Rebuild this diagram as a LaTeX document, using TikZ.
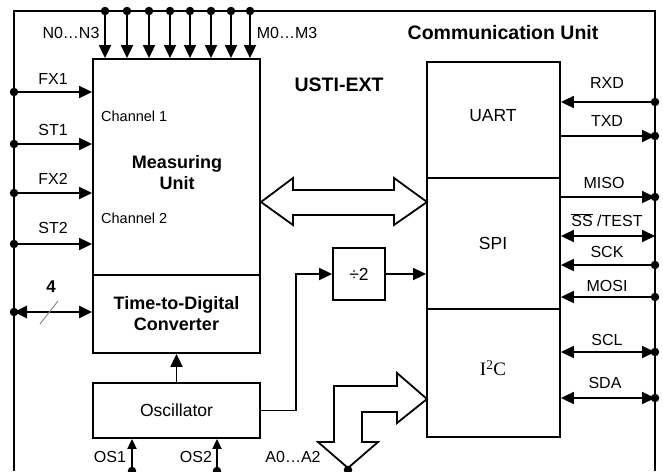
\documentclass[tikz,border=0pt]{standalone}
\usepackage{fontspec}
\setmainfont{Liberation Sans}
\newfontfamily\serifface{Liberation Serif}
\usetikzlibrary{arrows.meta}
\begin{document}
\begin{tikzpicture}[x=1pt,y=-1pt,
  wire/.style={line width=1.8pt},
  Tri/.tip={Triangle[length=13pt,width=12pt]},
  STri/.tip={Triangle[length=10pt,width=9pt]},
  arr/.style={wire,-Tri},
  sarr/.style={wire,-STri},
  darr/.style={wire,Tri-Tri},
  blk/.style={draw,line width=1.8pt,inner sep=0pt,align=center},
  dot/.style={circle,fill,inner sep=0pt,minimum size=8.5pt},
  pin/.style={inner sep=0pt,font=\fontsize{16}{18}\selectfont},
  chan/.style={inner sep=0pt,anchor=west,font=\fontsize{14.5}{16}\selectfont},
  big/.style={inner sep=0pt,align=center,font=\bfseries\fontsize{18}{21}\selectfont},
  headline/.style={inner sep=0pt,font=\bfseries\fontsize{19.5}{22}\selectfont},
  blocktext/.style={font=\fontsize{17.5}{20}\selectfont}
]
\useasboundingbox (0,0) rectangle (663,471);

% frame bus
\coordinate (tl) at (14,11); \coordinate (tr) at (655,11);
\coordinate (bl) at (14,471); \coordinate (br) at (655,471);
\draw[wire] (bl) -- (tl) -- (tr) -- (br);

% blocks
\node[blk, minimum width=167pt, minimum height=216pt] (mu) at (176.5,167) {};
\node[blk, big, minimum width=167pt, minimum height=78pt] (tdc) at (176.5,314) {Time-to-Digital\\Converter};
\node[blk, blocktext, minimum width=167pt, minimum height=55pt] (osc) at (176.5,410.5) {Oscillator};
\node[blk, blocktext, minimum width=52pt, minimum height=52pt] (div) at (359,274) {÷2};
\node[blk, minimum width=133pt, minimum height=116pt] (uart) at (493.5,120) {};
\node[blk, minimum width=133pt, minimum height=131pt] (spi) at (493.5,243.5) {};
\node[blk, minimum width=133pt, minimum height=128pt] (i2c) at (493.5,373) {};

% block texts
\node[blocktext, inner sep=0pt] (uartt) at (493,116) {UART};
\node[blocktext, inner sep=0pt] (spit) at (493,243) {SPI};
\node[inner sep=0pt, font=\serifface\fontsize{19}{21}\selectfont] (i2ct) at (493,368) {I\textsuperscript{2}C};
\node[big] (mut) at (177,173) {Measuring\\Unit};
\node[chan] (ch1) at (101,116) {Channel 1};
\node[chan] (ch2) at (101,218) {Channel 2};
\node[headline] (cu) at (503,33) {Communication Unit};
\node[headline] (usti) at (339,85) {USTI-EXT};

% top inputs
\foreach \x [count=\i] in {105,127,149,170,190,211,231,250} {
  \coordinate (n\i) at (\x,11);
  \draw[arr] (n\i) -- (n\i |- mu.north);
  \node[dot] (dn\i) at (n\i) {};
}
\node[pin] (nlab) at (71,33) {N0…N3};
\node[pin] (mlab) at (287,33) {M0…M3};

% left inputs
\foreach \y/\n in {92/fx1,144/st1,193/fx2,244/st2} {
  \coordinate (\n) at (14,\y);
  \draw[arr] (\n) -- (\n -| mu.west);
  \node[dot] (d\n) at (\n) {};
}
\node[pin] (fx1t) at (53,79) {FX1};
\node[pin] (st1t) at (53,130) {ST1};
\node[pin] (fx2t) at (53,179) {FX2};
\node[pin] (st2t) at (53,228) {ST2};

% 4-bit bus
\coordinate (b4) at (14,312);
\draw[line width=2.6pt, Tri-Tri] (b4) -- (b4 -| tdc.west);
\node[dot] (db4) at (b4) {};
\draw[gray, line width=0.9pt] (40,324) -- (58,301);
\node[inner sep=0pt, font=\bfseries\fontsize{17}{19}\selectfont] (four) at (51,287) {4};

% oscillator
\draw[arr] (osc.north) -- (tdc.south);
\coordinate (os1) at (132,471);
\coordinate (os2) at (217,471);
\draw[sarr] (os1) -- (os1 |- osc.south);
\draw[sarr] (os2) -- (os2 |- osc.south);
\node[dot] (dos1) at (os1) {};
\node[dot] (dos2) at (os2) {};
\node[pin] (os1t) at (110,457) {OS1};
\node[pin] (os2t) at (196,457) {OS2};
\coordinate (bend) at (296,274);
\draw[arr] (osc.east) -| (bend) -- (div.west);
\draw[arr] (div.east) -- (div.east -| spi.west);

% big double arrow
\draw[wire, fill=white, line join=miter] (261,202) -- (293,178) -- (293,190) -- (394,190) -- (394,178) -- (427,202) -- (394,225) -- (394,215) -- (293,215) -- (293,225) -- cycle;

% address bent arrow
\draw[wire, fill=white, line join=miter] (427,399) -- (397,373) -- (397,386) -- (334,386) -- (334,442) -- (318,442) -- (348,468) -- (378,442) -- (362,442) -- (362,412) -- (397,412) -- (397,423) -- cycle;
\node[dot] (da) at (348,470) {};
\node[pin] (at) at (293,457) {A0…A2};

% right side pins
\coordinate (rxd) at (655,102);
\coordinate (txd) at (655,136);
\coordinate (miso) at (655,197);
\coordinate (ss) at (655,236);
\coordinate (sck) at (655,265);
\coordinate (mosi) at (655,297);
\coordinate (scl) at (655,352);
\coordinate (sda) at (655,398);
\draw[arr] (rxd) -- (rxd -| uart.east);
\draw[arr] (txd -| uart.east) -- (txd);
\draw[arr] (miso -| spi.east) -- (miso);
\draw[darr] (ss -| spi.east) -- (ss);
\draw[arr] (sck) -- (sck -| spi.east);
\draw[arr] (mosi) -- (mosi -| spi.east);
\draw[darr] (scl -| i2c.east) -- (scl);
\draw[darr] (sda -| i2c.east) -- (sda);
\foreach \p in {rxd,txd,miso,sck,mosi,scl,sda} {
  \node[dot] (d\p) at (\p) {};
}
\node[pin] (rxdt) at (607,83) {RXD};
\node[pin] (txdt) at (607,121) {TXD};
\node[pin] (misot) at (604,183) {MISO};
\node[pin] (sst) at (607,220) {$\overline{\mbox{SS}}$ /TEST};
\node[pin] (sckt) at (607,252) {SCK};
\node[pin] (mosit) at (607,286) {MOSI};
\node[pin] (sclt) at (607,340) {SCL};
\node[pin] (sdat) at (605,383) {SDA};
\end{tikzpicture}
\end{document}
